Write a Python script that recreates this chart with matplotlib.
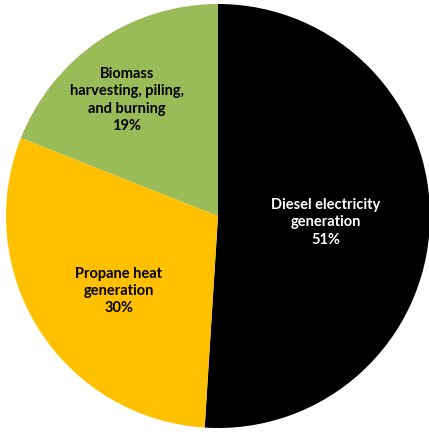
import matplotlib
matplotlib.use("Agg")
import matplotlib.pyplot as plt

# Data
labels = ["Diesel electricity\ngeneration", "Propane heat\ngeneration",
          "Biomass\nharvesting, piling,\nand burning"]
shares = [51, 30, 19]
colors = ["#000000", "#FFC000", "#9BBB59"]
text_colors = ["white", "black", "black"]
label_pos = [(0.51, -0.03), (-0.467, -0.354), (-0.43, 0.547)]

fig = plt.figure(figsize=(4.29, 4.32), dpi=100)
ax = fig.add_axes([6 / 429, 4 / 432, 424 / 429, 424 / 432])

ax.pie(shares, colors=colors, startangle=90, counterclock=False, radius=1,
       wedgeprops=dict(linewidth=0))

for lab, val, col, (x, y) in zip(labels, shares, text_colors, label_pos):
    ax.text(x, y, f"{lab}\n{val}%", ha="center", va="center", color=col,
            fontsize=10.5, fontweight="bold", family=["Lato", "DejaVu Sans"],
            linespacing=1.3)

ax.set_xlim(-1, 1)
ax.set_ylim(-1, 1)
ax.set_aspect("auto")
ax.axis("off")

fig.savefig("out.png", dpi=100)
